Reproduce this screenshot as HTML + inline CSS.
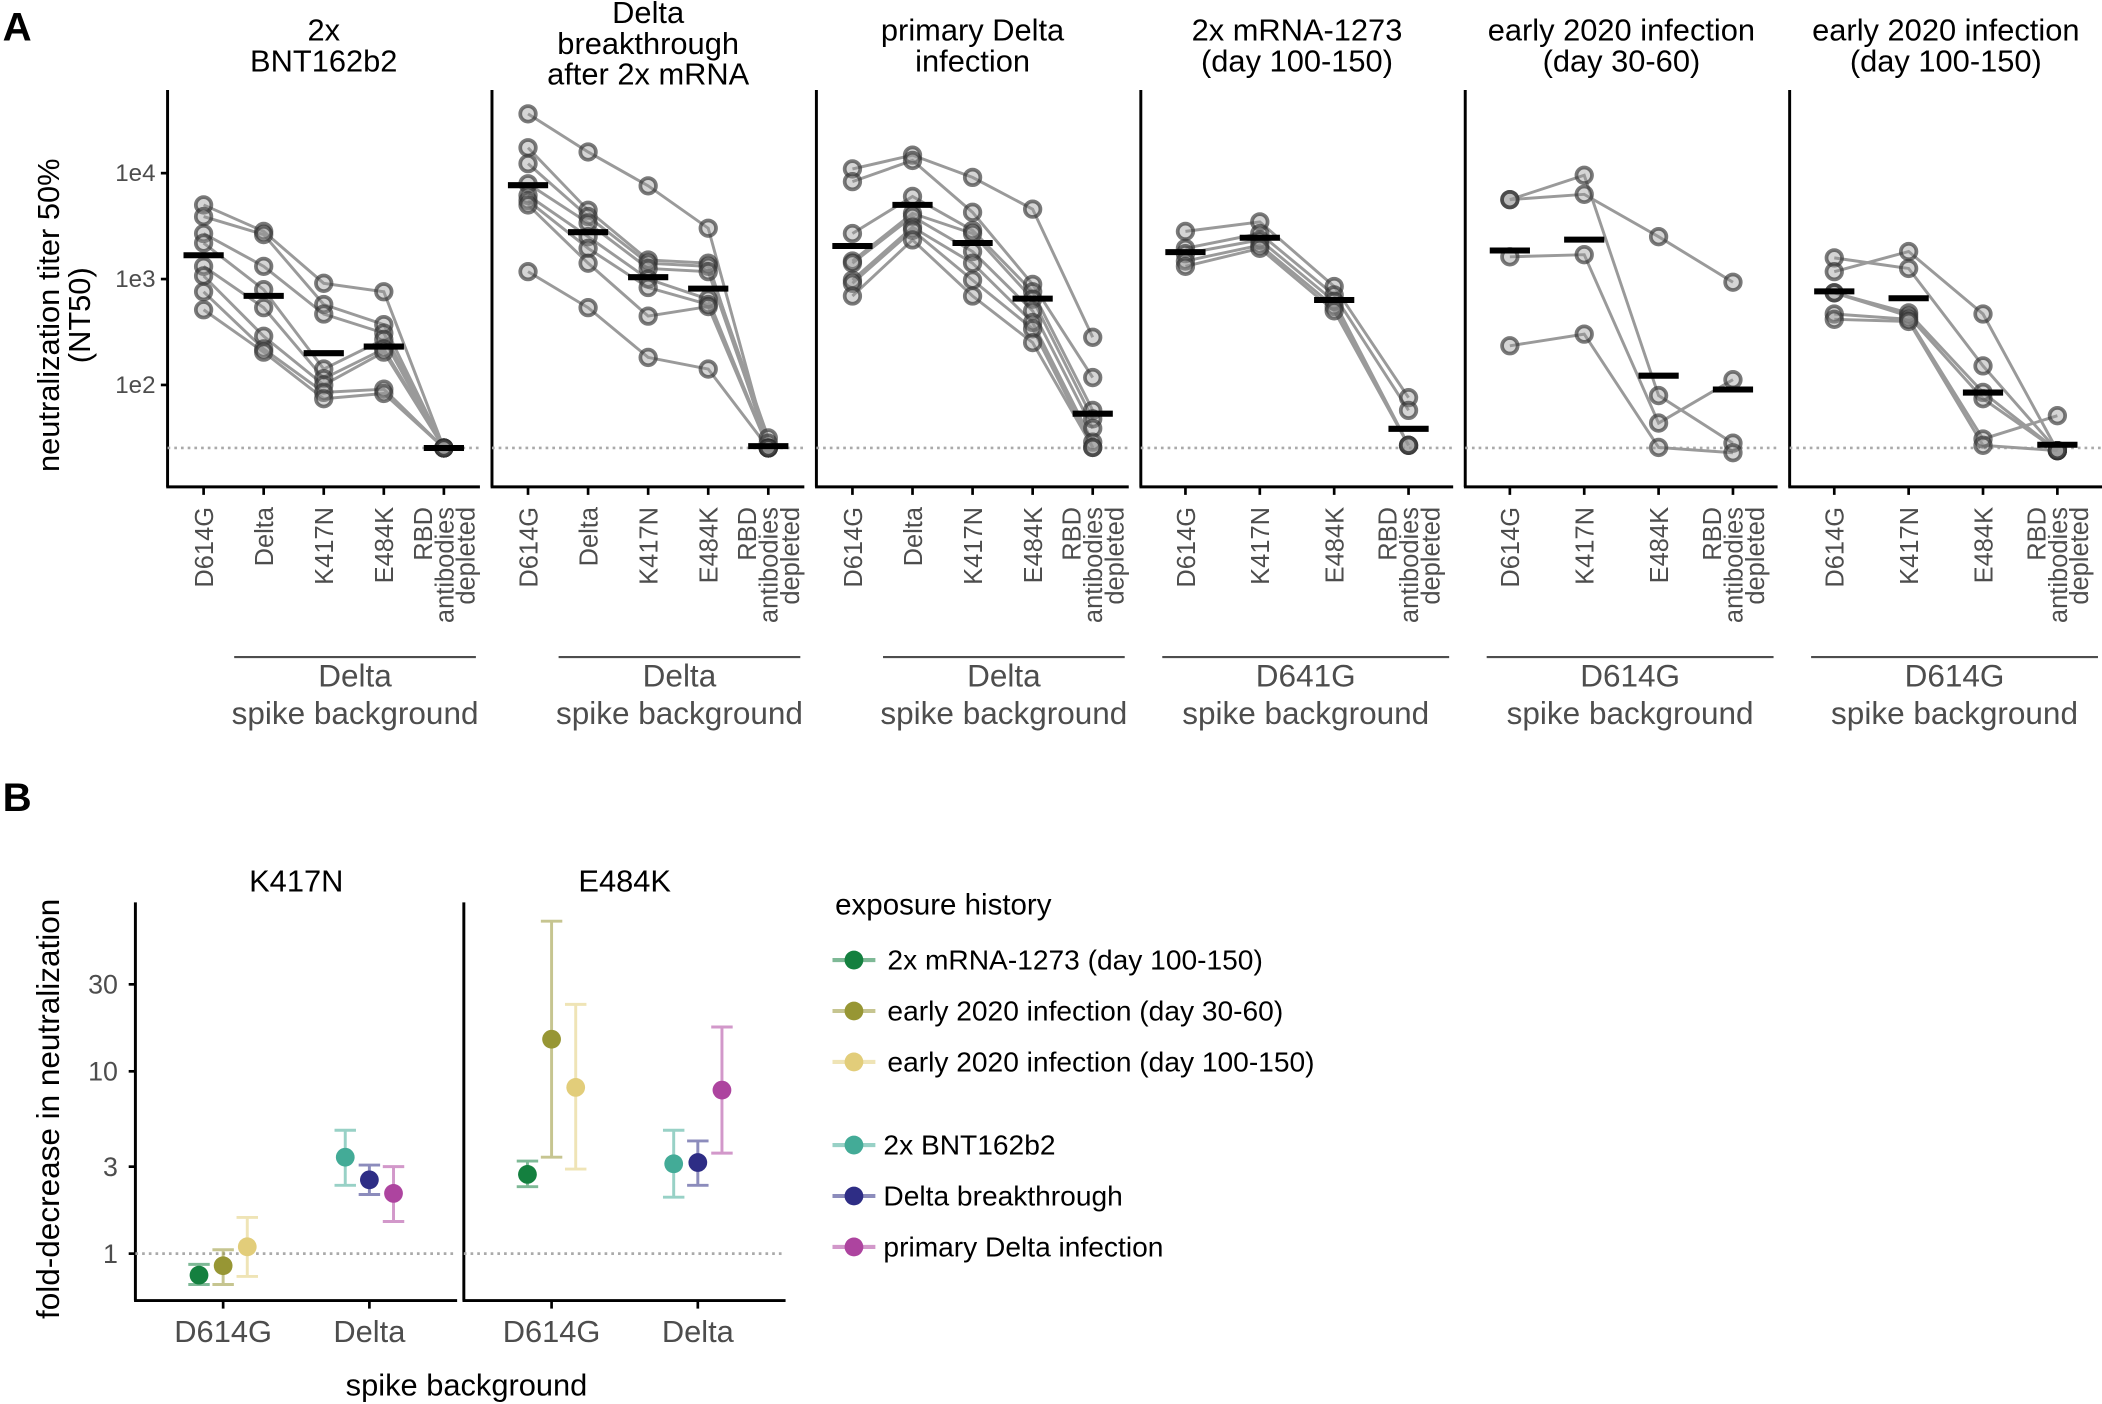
<!DOCTYPE html>
<html><head><meta charset="utf-8"><style>
html,body{margin:0;padding:0;background:#fff;}
svg{display:block;font-family:"Liberation Sans",sans-serif;}
</style></head><body>
<svg id="chart" width="2102" height="1404" viewBox="0 0 1568 1047" xmlns="http://www.w3.org/2000/svg">
<rect x="0" y="0" width="1568" height="1047" fill="#fff"/>
<g id="gA"></g>
<g id="gB"></g>
</svg>
<script>
// ---------- Panel A data (log10 NT50) ----------
const facetTitles = [["2x","BNT162b2"],["Delta","breakthrough","after 2x mRNA"],["primary Delta","infection"],["2x mRNA-1273","(day 100-150)"],["early 2020 infection","(day 30-60)"],["early 2020 infection","(day 100-150)"]];
const catsDelta = ["D614G","Delta","K417N","E484K","RBD"];
const catsD614G = ["D614G","K417N","E484K","RBD"];
const backgrounds = ["Delta","Delta","Delta","D641G","D614G","D614G"];
const yTicksA = [4,3,2];
const yTickLabelsA = ["1e4","1e3","1e2"];
const lodLog = 1.405;
const f1 = [[3.70,3.45,2.96,2.88,1.405],[3.59,3.42,2.76,2.57,1.405],[3.43,3.12,2.67,2.49,1.405],[3.34,2.90,2.15,2.43,1.405],[3.12,2.73,2.06,2.34,1.405],[3.03,2.46,2.00,2.31,1.405],[2.88,2.34,1.93,1.96,1.405],[2.71,2.31,1.87,1.92,1.405]];
const f2 = [[4.56,4.20,3.88,3.48,1.405],[4.24,3.65,3.18,3.15,1.405],[4.09,3.59,3.15,3.12,1.50],[3.90,3.53,3.10,3.07,1.45],[3.79,3.40,3.00,2.81,1.405],[3.74,3.29,2.92,2.76,1.405],[3.70,3.15,2.65,2.74,1.405],[3.07,2.73,2.26,2.15,1.405]];
const f3 = [[4.04,4.17,3.96,3.66,2.45],[3.92,4.12,3.63,2.95,2.07],[3.43,3.78,3.46,2.88,1.76],[3.17,3.62,3.43,2.81,1.68],[3.15,3.59,3.26,2.70,1.59],[2.99,3.49,3.15,2.59,1.46],[2.96,3.46,2.99,2.53,1.41],[2.84,3.37,2.84,2.40,1.41]];
const f4 = [[3.45,3.54,2.93,1.88],[3.29,3.43,2.85,1.76],[3.24,3.37,2.79,1.43],[3.17,3.32,2.74,1.43],[3.12,3.29,2.70,1.43]];
const f5 = [[3.75,3.98,1.90,1.45],[3.75,3.80,3.40,2.97],[3.21,3.23,1.64,2.05],[2.37,2.48,1.41,1.36]];
const f6 = [[3.20,3.10,2.18,1.38],[3.07,3.26,2.67,1.38],[2.87,2.68,1.93,1.38],[2.87,2.65,1.87,1.38],[2.67,2.62,1.49,1.71],[2.62,2.60,1.43,1.38]];
const facetData = [f1,f2,f3,f4,f5,f6];
const facetCats = [catsDelta,catsDelta,catsDelta,catsD614G,catsD614G,catsD614G];

// ---------- Panel B data (fold decrease) ----------
const groups = ["2x mRNA-1273 (day 100-150)","early 2020 infection (day 30-60)","early 2020 infection (day 100-150)","2x BNT162b2","Delta breakthrough","primary Delta infection"];
const groupColors = ["#14803f","#979634","#e2cd7a","#43ab97","#2e2d85","#ad449f"];
const groupBg = [0,0,0,1,1,1]; // 0 = D614G, 1 = Delta
const mutations = ["K417N","E484K"];
const bgCats = ["D614G","Delta"];
const foldK = [0.762,0.858,1.09,3.38,2.54,2.14];
const foldKlo = [0.677,0.677,0.75,2.37,2.11,1.50];
const foldKhi = [0.873,1.05,1.58,4.75,3.06,3.0];
const foldE = [2.72,15.0,8.16,3.11,3.16,7.89];
const foldElo = [2.33,3.38,2.91,2.04,2.37,3.56];
const foldEhi = [3.22,66.6,23.3,4.75,4.15,17.5];
const yTicksB = [1,3,10,30];

const NS="http://www.w3.org/2000/svg";
function mk(parent, tag, attrs, text){const e=document.createElementNS(NS,tag);for(const k in attrs)e.setAttribute(k,attrs[k]);if(text!==undefined)e.textContent=text;parent.appendChild(e);return e;}

// ---------- Draw panel A ----------
const gA=document.getElementById('gA');
const A_TOP=67, A_BOT=363, FW=233;
const lefts=[125,367,609,851,1093,1335];
function yA(v){return 129+(4-v)*79;}
function xA(fi,i,n){return lefts[fi]+(0.6+i)*FW/(n-1+1.2);}
let t=mk(gA,'text',{x:2,y:30,'font-size':30,'font-weight':'bold'},'A');

t=mk(gA,'text',{x:0,y:0,'font-size':23,'text-anchor':'middle',transform:'translate(44,235) rotate(-90)'},'neutralization titer 50%');

t=mk(gA,'text',{x:0,y:0,'font-size':23,'text-anchor':'middle',transform:'translate(67,235) rotate(-90)'},'(NT50)');

yTicksA.forEach((v,i)=>{
  const l=mk(gA,'line',{x1:lefts[0]-5,x2:lefts[0],y1:yA(v),y2:yA(v),stroke:'#000','stroke-width':2});
  
  const tx=mk(gA,'text',{x:lefts[0]-9,y:yA(v)+6,'font-size':18,'text-anchor':'end',fill:'#4d4d4d'},yTickLabelsA[i]);
  
});
facetData.forEach((data,fi)=>{
  const g=mk(gA,'g',{});
  
  const L=lefts[fi], cx=L+FW/2, cats=facetCats[fi], n=cats.length;
  const title=facetTitles[fi];
  const base = title.length===3?17:30;
  title.forEach((s,k)=>{const e=mk(g,'text',{x:cx,y:base+k*23,'font-size':23,'text-anchor':'middle'},s);
    });
  let e=mk(g,'line',{x1:L,x2:L,y1:A_TOP,y2:A_BOT,stroke:'#000','stroke-width':2.2});
  
  e=mk(g,'line',{x1:L-1,x2:L+FW,y1:A_BOT,y2:A_BOT,stroke:'#000','stroke-width':2.2});
  
  e=mk(g,'line',{x1:L,x2:L+FW,y1:yA(lodLog),y2:yA(lodLog),stroke:'#aaa','stroke-width':2,'stroke-dasharray':'2,3'});
  
  data.forEach(d=>{
    const pts=d.map((v,i)=>xA(fi,i,n)+','+yA(v)).join(' ');
    const pl=mk(g,'polyline',{points:pts,fill:'none',stroke:'#9a9a9a','stroke-width':2.2});
    
  });
  data.forEach(d=>{d.forEach((v,i)=>{
    const c=mk(g,'circle',{cx:xA(fi,i,n),cy:yA(v),r:5.8,fill:'rgba(150,150,150,0.4)',stroke:'rgba(50,50,50,0.65)','stroke-width':2.8});
    
  });});
  for(let i=0;i<n;i++){
    let m=0;data.forEach(d=>m+=d[i]);m/=data.length;
    const x=xA(fi,i,n);
    const b=mk(g,'line',{x1:x-15,x2:x+15,y1:yA(m),y2:yA(m),stroke:'#000','stroke-width':4.5});
    
    const tk=mk(g,'line',{x1:x,x2:x,y1:A_BOT,y2:A_BOT+6,stroke:'#000','stroke-width':2});
    
    const lines = cats[i]==='RBD'?['RBD','antibodies','depleted']:[cats[i]];
    lines.forEach((s,k)=>{
      const off = lines.length===3?(k-1)*16+7:7;
      const tx=mk(g,'text',{x:0,y:0,'font-size':19,'text-anchor':'end',fill:'#4d4d4d',transform:`translate(${x+off},378) rotate(-90)`},s);
      
    });
  }
  const bx1 = n===5?xA(fi,1,n)-22:L+16, bx2=L+FW-3;
  e=mk(g,'line',{x1:bx1,x2:bx2,y1:490,y2:490,stroke:'#4d4d4d','stroke-width':1.6});
  
  const bc=(bx1+bx2)/2;
  e=mk(g,'text',{x:bc,y:512,'font-size':23.5,'text-anchor':'middle',fill:'#4d4d4d'},backgrounds[fi]);
  
  e=mk(g,'text',{x:bc,y:540,'font-size':23.5,'text-anchor':'middle',fill:'#4d4d4d'},'spike background');
  
});

// ---------- Draw panel B ----------
const gB=document.getElementById('gB');
const B_TOP=673, B_BOT=970, BW=240, bLefts=[101,346];
function yB(f){return 935-Math.log10(f)*136;}
function xB(fi,ci){return bLefts[fi]+(0.6+ci)*BW/2.2;}
t=mk(gB,'text',{x:2,y:605,'font-size':30,'font-weight':'bold'},'B');

t=mk(gB,'text',{x:0,y:0,'font-size':23.5,'text-anchor':'middle',transform:'translate(44,827) rotate(-90)'},'fold-decrease in neutralization');

t=mk(gB,'text',{x:348,y:1041,'font-size':23,'text-anchor':'middle'},'spike background');

yTicksB.forEach(v=>{
  const l=mk(gB,'line',{x1:bLefts[0]-5,x2:bLefts[0],y1:yB(v),y2:yB(v),stroke:'#000','stroke-width':2});
  
  const tx=mk(gB,'text',{x:bLefts[0]-13,y:yB(v)+7,'font-size':20,'text-anchor':'end',fill:'#4d4d4d'},String(v));
  
});
const bVals=[[foldK,foldKlo,foldKhi],[foldE,foldElo,foldEhi]];
mutations.forEach((mname,fi)=>{
  const g=mk(gB,'g',{});
  
  const L=bLefts[fi];
  let e=mk(g,'text',{x:L+BW/2,y:665,'font-size':23,'text-anchor':'middle'},mname);
  
  e=mk(g,'line',{x1:L,x2:L,y1:B_TOP,y2:B_BOT,stroke:'#000','stroke-width':2.2});
  
  e=mk(g,'line',{x1:L-1,x2:L+BW,y1:B_BOT,y2:B_BOT,stroke:'#000','stroke-width':2.2});
  
  e=mk(g,'line',{x1:L,x2:L+BW,y1:yB(1),y2:yB(1),stroke:'#aaa','stroke-width':2,'stroke-dasharray':'2,3'});
  
  bgCats.forEach((c,ci)=>{
    const x=xB(fi,ci);
    const tk=mk(g,'line',{x1:x,x2:x,y1:B_BOT,y2:B_BOT+6,stroke:'#000','stroke-width':2});
    
    const tx=mk(g,'text',{x:x,y:1001,'font-size':23,'text-anchor':'middle',fill:'#4d4d4d'},c);
    
  });
  const [val,lo,hi]=bVals[fi];
  groups.forEach((gname,gi)=>{
    const slot=gi%3;
    const x=xB(fi,groupBg[gi])+(slot-1)*18;
    const col=groupColors[gi];
    const eb=mk(g,'path',{d:`M${x-8},${yB(lo[gi])}H${x+8}M${x},${yB(lo[gi])}V${yB(hi[gi])}M${x-8},${yB(hi[gi])}H${x+8}`,stroke:col,'stroke-opacity':0.55,'stroke-width':2.2,fill:'none'});
    
    const p=mk(g,'circle',{cx:x,cy:yB(val[gi]),r:7,fill:col});
    
  });
});
const lg=mk(gB,'g',{});

t=mk(lg,'text',{x:623,y:682,'font-size':22},'exposure history');

const legY=[716,754,792,854,892,930];
groups.forEach((gname,gi)=>{
  const y=legY[gi], col=groupColors[gi];
  const e=mk(lg,'g',{});
  
  mk(e,'line',{x1:621,x2:653,y1:y,y2:y,stroke:col,'stroke-opacity':0.55,'stroke-width':3});
  mk(e,'circle',{cx:637,cy:y,r:7,fill:col});
  mk(e,'text',{x:gi<3?662:659,y:y+7,'font-size':21},gname);
});
</script>
</body></html>
